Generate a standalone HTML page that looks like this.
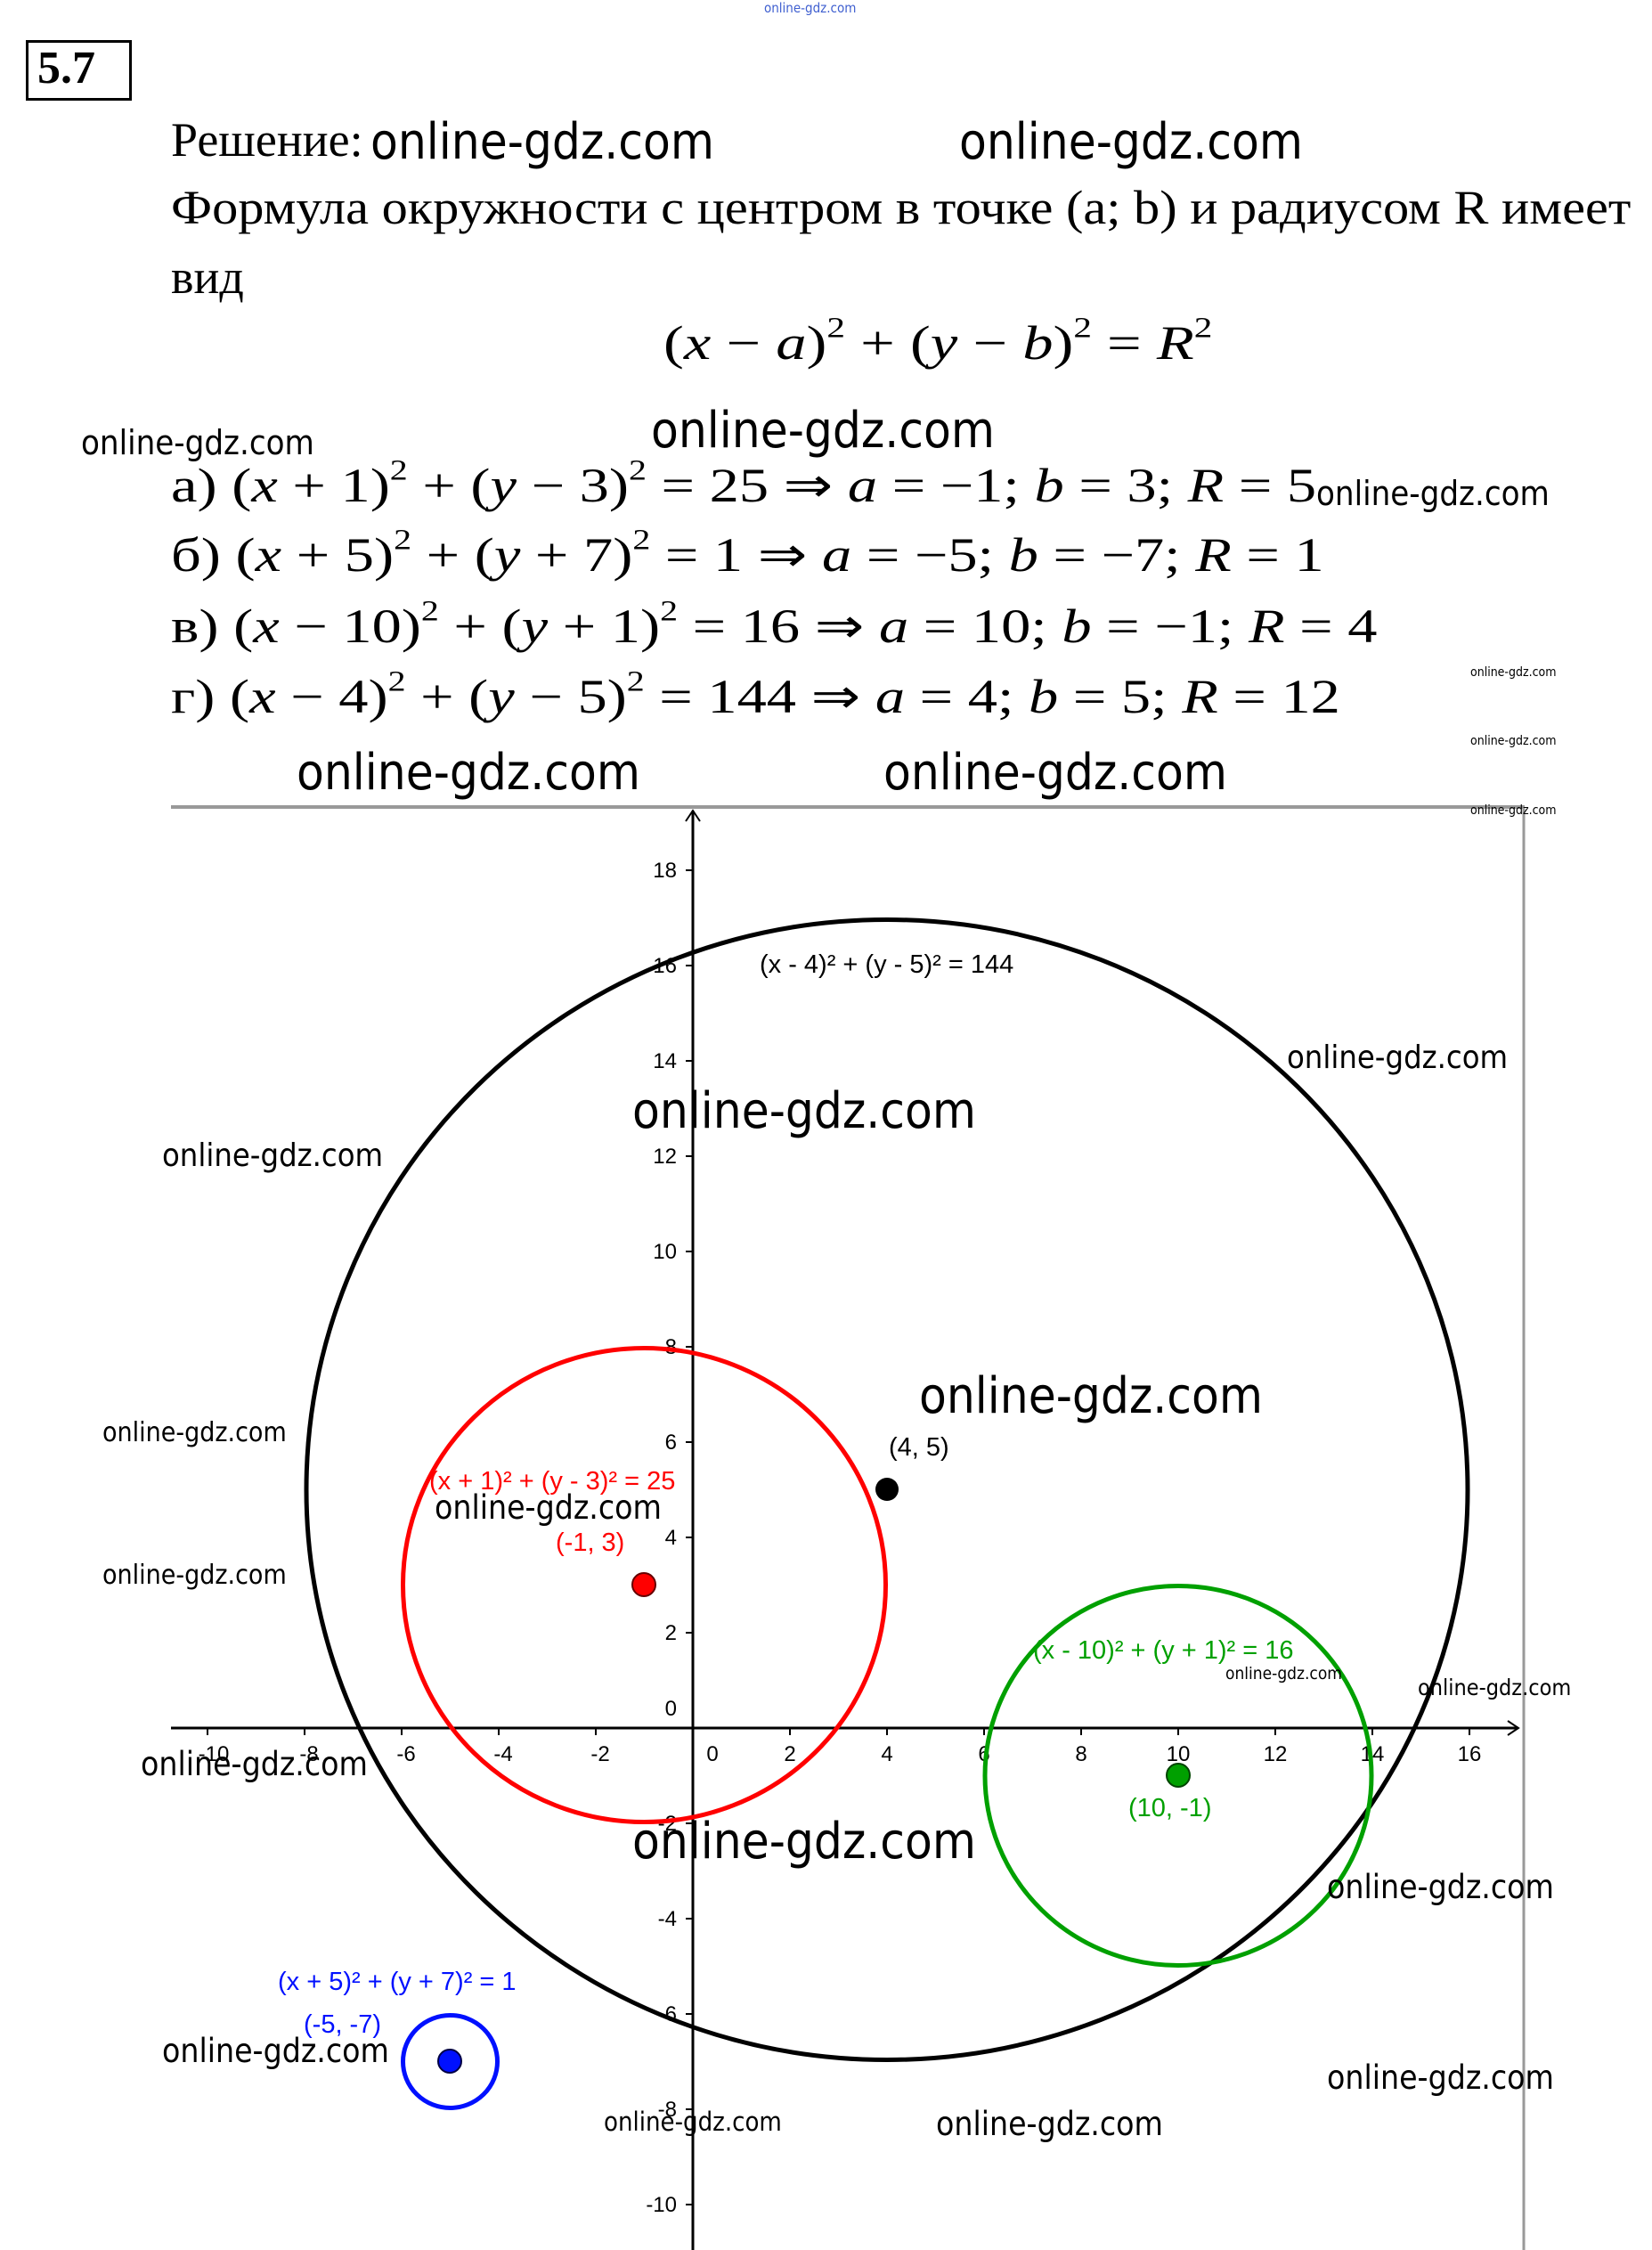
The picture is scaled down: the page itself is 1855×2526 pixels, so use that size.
<!DOCTYPE html>
<html><head><meta charset="utf-8"><style>
html,body{margin:0;padding:0;background:#fff;}
body{width:1855px;height:2526px;position:relative;overflow:hidden;}
.t{position:absolute;white-space:nowrap;line-height:1;transform-origin:0 0;}
.s{font-family:"Liberation Serif",serif;font-size:54px;color:#000;}
.m{font-family:"Liberation Serif",serif;font-size:54px;color:#000;transform:scaleX(1.23);}
.m i{font-style:italic;}
.m sup{font-size:0.6em;vertical-align:0.75em;line-height:0;}
.w{font-family:"DejaVu Sans Condensed","Liberation Sans",sans-serif;color:#000;}
</style></head><body>
<div style="position:absolute;left:29px;top:45px;width:113px;height:62px;border:3px solid #000;"></div>
<div class="t" style="left:42px;top:51px;font-family:'Liberation Serif',serif;font-weight:bold;font-size:52px;">5.7</div>
<div class="t w" style="left:858px;top:2px;font-size:15px;color:#4060d0;">online-gdz.com</div>

<div class="t s" style="left:192px;top:130px;">Решение:</div>
<div class="t s" style="left:192px;top:206px;transform:scaleX(1.08);">Формула окружности с центром в точке (a; b) и радиусом R имеет</div>
<div class="t s" style="left:192px;top:284px;">вид</div>
<div class="t m" style="left:745px;top:358px;transform:scaleX(1.27);">(<i>x</i> − <i>a</i>)<sup>2</sup> + (<i>y</i> − <i>b</i>)<sup>2</sup> = <i>R</i><sup>2</sup></div>

<div class="t m" style="left:192px;top:518px;">а) (<i>x</i> + 1)<sup>2</sup> + (<i>y</i> − 3)<sup>2</sup> = 25 ⇒ <i>a</i> = −1; <i>b</i> = 3; <i>R</i> = 5</div>
<div class="t m" style="left:192px;top:596px;">б) (<i>x</i> + 5)<sup>2</sup> + (<i>y</i> + 7)<sup>2</sup> = 1 ⇒ <i>a</i> = −5; <i>b</i> = −7; <i>R</i> = 1</div>
<div class="t m" style="left:192px;top:676px;">в) (<i>x</i> − 10)<sup>2</sup> + (<i>y</i> + 1)<sup>2</sup> = 16 ⇒ <i>a</i> = 10; <i>b</i> = −1; <i>R</i> = 4</div>
<div class="t m" style="left:192px;top:755px;">г) (<i>x</i> − 4)<sup>2</sup> + (<i>y</i> − 5)<sup>2</sup> = 144 ⇒ <i>a</i> = 4; <i>b</i> = 5; <i>R</i> = 12</div>

<svg width="1855" height="2526" style="position:absolute;left:0;top:0" xmlns="http://www.w3.org/2000/svg">
<line x1="192" y1="906" x2="1712" y2="906" stroke="#999" stroke-width="4"/>
<line x1="1711" y1="906" x2="1711" y2="2526" stroke="#999" stroke-width="3"/>
<line x1="192" y1="1940" x2="1705" y2="1940" stroke="#000" stroke-width="3"/>
<path d="M1693 1932 L1705 1940 L1693 1948" fill="none" stroke="#000" stroke-width="2"/>
<line x1="778" y1="910" x2="778" y2="2526" stroke="#000" stroke-width="3"/>
<path d="M770 922 L778 910 L786 922" fill="none" stroke="#000" stroke-width="2"/>
<g stroke="#000" stroke-width="2">
<line x1="233" y1="1940" x2="233" y2="1948"/><line x1="342" y1="1940" x2="342" y2="1948"/><line x1="451" y1="1940" x2="451" y2="1948"/><line x1="560" y1="1940" x2="560" y2="1948"/><line x1="669" y1="1940" x2="669" y2="1948"/><line x1="887" y1="1940" x2="887" y2="1948"/><line x1="996" y1="1940" x2="996" y2="1948"/><line x1="1105" y1="1940" x2="1105" y2="1948"/><line x1="1214" y1="1940" x2="1214" y2="1948"/><line x1="1323" y1="1940" x2="1323" y2="1948"/><line x1="1432" y1="1940" x2="1432" y2="1948"/><line x1="1541" y1="1940" x2="1541" y2="1948"/><line x1="1650" y1="1940" x2="1650" y2="1948"/>
<line x1="770" y1="977" x2="778" y2="977"/><line x1="770" y1="1084" x2="778" y2="1084"/><line x1="770" y1="1191" x2="778" y2="1191"/><line x1="770" y1="1298" x2="778" y2="1298"/><line x1="770" y1="1405" x2="778" y2="1405"/><line x1="770" y1="1512" x2="778" y2="1512"/><line x1="770" y1="1619" x2="778" y2="1619"/><line x1="770" y1="1726" x2="778" y2="1726"/><line x1="770" y1="1833" x2="778" y2="1833"/><line x1="770" y1="2047" x2="778" y2="2047"/><line x1="770" y1="2154" x2="778" y2="2154"/><line x1="770" y1="2261" x2="778" y2="2261"/><line x1="770" y1="2368" x2="778" y2="2368"/><line x1="770" y1="2475" x2="778" y2="2475"/>
</g>
<g font-family="Liberation Sans,sans-serif" font-size="24" fill="#000" text-anchor="middle">
<text x="240" y="1977">-10</text><text x="347" y="1977">-8</text><text x="456" y="1977">-6</text><text x="565" y="1977">-4</text><text x="674" y="1977">-2</text><text x="800" y="1977">0</text><text x="887" y="1977">2</text><text x="996" y="1977">4</text><text x="1105" y="1977">6</text><text x="1214" y="1977">8</text><text x="1323" y="1977">10</text><text x="1432" y="1977">12</text><text x="1541" y="1977">14</text><text x="1650" y="1977">16</text>
</g>
<g font-family="Liberation Sans,sans-serif" font-size="24" fill="#000" text-anchor="end">
<text x="760" y="985">18</text><text x="760" y="1092">16</text><text x="760" y="1199">14</text><text x="760" y="1306">12</text><text x="760" y="1413">10</text><text x="760" y="1520">8</text><text x="760" y="1627">6</text><text x="760" y="1734">4</text><text x="760" y="1841">2</text><text x="760" y="1926">0</text><text x="760" y="2055">-2</text><text x="760" y="2162">-4</text><text x="760" y="2269">-6</text><text x="760" y="2376">-8</text><text x="760" y="2483">-10</text>
</g>
<ellipse cx="996" cy="1672.5" rx="652" ry="640" fill="none" stroke="#000" stroke-width="5"/>
<ellipse cx="723.5" cy="1779.5" rx="271" ry="266" fill="none" stroke="#f00" stroke-width="5"/>
<ellipse cx="1323" cy="1993.5" rx="217" ry="213" fill="none" stroke="#00a000" stroke-width="5"/>
<ellipse cx="505.5" cy="2314.5" rx="53" ry="52" fill="none" stroke="#0010ff" stroke-width="5"/>
<circle cx="996" cy="1672" r="13" fill="#000"/>
<circle cx="723" cy="1779" r="13" fill="#f00" stroke="#600" stroke-width="2"/>
<circle cx="1323" cy="1993" r="13" fill="#00a000" stroke="#040" stroke-width="2"/>
<circle cx="505" cy="2314" r="13" fill="#0010ff" stroke="#004" stroke-width="2"/>
<g font-family="Liberation Sans,sans-serif" font-size="29">
<text x="853" y="1092" fill="#000">(x - 4)² + (y - 5)² = 144</text>
<text x="482" y="1672" fill="#f00">(x + 1)² + (y - 3)² = 25</text>
<text x="624" y="1741" fill="#f00">(-1, 3)</text>
<text x="998" y="1634" fill="#000">(4, 5)</text>
<text x="1160" y="1862" fill="#00a000">(x - 10)² + (y + 1)² = 16</text>
<text x="1267" y="2039" fill="#00a000">(10, -1)</text>
<text x="312" y="2234" fill="#0010ff">(x + 5)² + (y + 7)² = 1</text>
<text x="341" y="2282" fill="#0010ff">(-5, -7)</text>
</g>
</svg>

<div class="t w" style="left:416px;top:132px;font-size:56px;">online-gdz.com</div>
<div class="t w" style="left:1077px;top:132px;font-size:56px;">online-gdz.com</div>
<div class="t w" style="left:91px;top:478px;font-size:38px;">online-gdz.com</div>
<div class="t w" style="left:731px;top:456px;font-size:56px;">online-gdz.com</div>
<div class="t w" style="left:1478px;top:535px;font-size:38px;">online-gdz.com</div>
<div class="t w" style="left:1651px;top:748px;font-size:14px;">online-gdz.com</div>
<div class="t w" style="left:1651px;top:825px;font-size:14px;">online-gdz.com</div>
<div class="t w" style="left:1651px;top:903px;font-size:14px;">online-gdz.com</div>
<div class="t w" style="left:333px;top:840px;font-size:56px;">online-gdz.com</div>
<div class="t w" style="left:992px;top:840px;font-size:56px;">online-gdz.com</div>
<div class="t w" style="left:1445px;top:1170px;font-size:36px;">online-gdz.com</div>
<div class="t w" style="left:710px;top:1220px;font-size:56px;">online-gdz.com</div>
<div class="t w" style="left:182px;top:1280px;font-size:36px;">online-gdz.com</div>
<div class="t w" style="left:1032px;top:1540px;font-size:56px;">online-gdz.com</div>
<div class="t w" style="left:115px;top:1594px;font-size:30px;">online-gdz.com</div>
<div class="t w" style="left:488px;top:1674px;font-size:37px;">online-gdz.com</div>
<div class="t w" style="left:115px;top:1754px;font-size:30px;">online-gdz.com</div>
<div class="t w" style="left:1376px;top:1870px;font-size:19px;">online-gdz.com</div>
<div class="t w" style="left:1592px;top:1882px;font-size:25px;">online-gdz.com</div>
<div class="t w" style="left:158px;top:1962px;font-size:37px;">online-gdz.com</div>
<div class="t w" style="left:710px;top:2040px;font-size:56px;">online-gdz.com</div>
<div class="t w" style="left:1490px;top:2100px;font-size:37px;">online-gdz.com</div>
<div class="t w" style="left:182px;top:2284px;font-size:37px;">online-gdz.com</div>
<div class="t w" style="left:1490px;top:2314px;font-size:37px;">online-gdz.com</div>
<div class="t w" style="left:678px;top:2368px;font-size:29px;">online-gdz.com</div>
<div class="t w" style="left:1051px;top:2366px;font-size:37px;">online-gdz.com</div>
</body></html>
